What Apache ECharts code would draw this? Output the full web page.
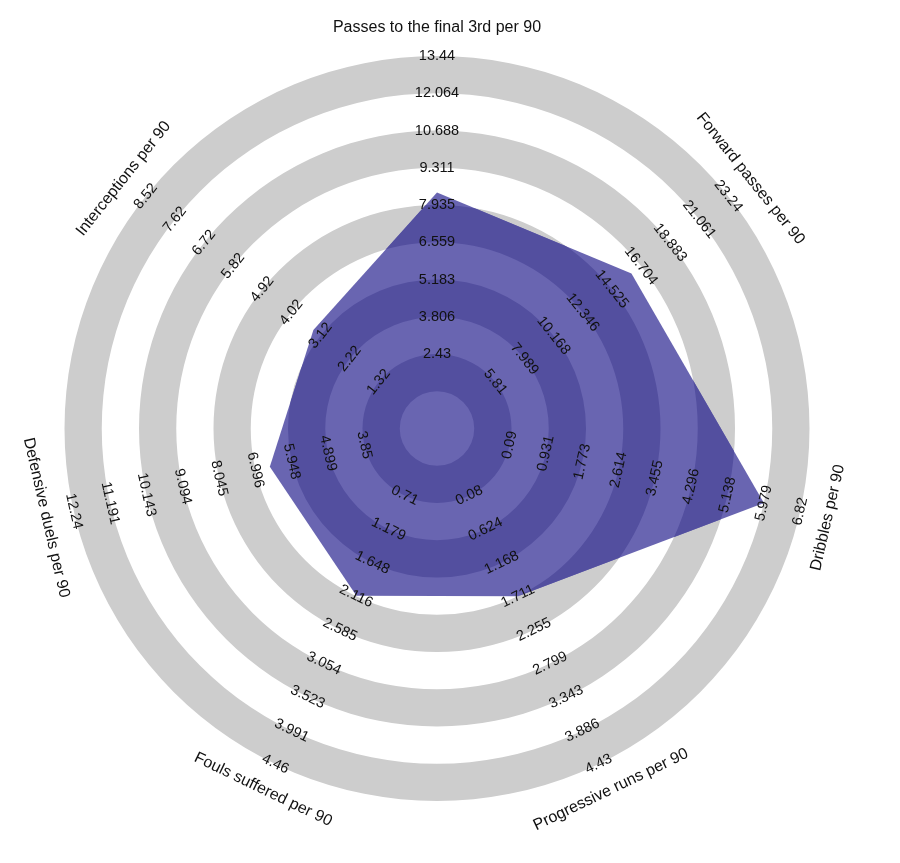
<!DOCTYPE html>
<html>
<head>
<meta charset="utf-8">
<script src="https://cdn.jsdelivr.net/npm/echarts@6/dist/echarts.min.js"></script>
<style>
    html, body { margin: 0; padding: 0; background: #ffffff; }
    #radar { width: 900px; height: 863px; }
</style>
</head>
<body>
<div id="radar"></div>
<script>
    var params = [
        'Passes to the final 3rd per 90',
        'Forward passes per 90',
        'Dribbles per 90',
        'Progressive runs per 90',
        'Fouls suffered per 90',
        'Defensive duels per 90',
        'Interceptions per 90'
    ];
    var playerValues = [8.4, 16.0, 5.98, 1.71, 2.11, 6.58, 3.34];
    var tickLabels = [
        ['2.43', '3.806', '5.183', '6.559', '7.935', '9.311', '10.688', '12.064', '13.44'],
        ['5.81', '7.989', '10.168', '12.346', '14.525', '16.704', '18.883', '21.061', '23.24'],
        ['0.09', '0.931', '1.773', '2.614', '3.455', '4.296', '5.138', '5.979', '6.82'],
        ['0.08', '0.624', '1.168', '1.711', '2.255', '2.799', '3.343', '3.886', '4.43'],
        ['0.71', '1.179', '1.648', '2.116', '2.585', '3.054', '3.523', '3.991', '4.46'],
        ['3.85', '4.899', '5.948', '6.996', '8.045', '9.094', '10.143', '11.191', '12.24'],
        ['1.32', '2.22', '3.12', '4.02', '4.92', '5.82', '6.72', '7.62', '8.52']
    ];

    var lightColor = '#6965b1';
    var darkColor = '#534f9f';
    var ringColor = '#cdcdcd';
    var textColor = '#111111';

    var step = 360 / params.length;

    function axisAngle(i) {
        return i * step;
    }
    // keep text readable on the lower half
    function labelRotate(i) {
        var a = axisAngle(i);
        var rot = -a;
        if (a > 90 && a < 270) rot += 180;
        if (rot < -180) rot += 360;
        return rot;
    }
    // value -> ring units (lowest tick on ring 2, highest on ring 10)
    function toRing(i, v) {
        var list = tickLabels[i];
        var lo = parseFloat(list[0]);
        var hi = parseFloat(list[list.length - 1]);
        return 2 + 8 * (v - lo) / (hi - lo);
    }

    var polyData = playerValues.map(function (v, i) {
        return [toRing(i, v), axisAngle(i)];
    });

    var tickData = [];
    tickLabels.forEach(function (list, i) {
        list.forEach(function (t, k) {
            tickData.push({ name: t, value: [k + 2, axisAngle(i), labelRotate(i)] });
        });
    });

    var paramData = params.map(function (p, i) {
        return { name: p, value: [10.76, axisAngle(i), labelRotate(i)] };
    });

    function textItem(list, size) {
        return function (prm, api) {
            var pt = api.coord([api.value(0), api.value(1)]);
            return {
                type: 'text',
                x: pt[0],
                y: pt[1],
                rotation: api.value(2) * Math.PI / 180,
                style: {
                    text: list[prm.dataIndex].name,
                    x: 0,
                    y: 0,
                    align: 'center',
                    verticalAlign: 'middle',
                    fill: textColor,
                    font: size + 'px "Liberation Sans", Arial, sans-serif'
                }
            };
        };
    }

    var chartDom = document.getElementById('radar');
    var myChart = echarts.init(chartDom);
    var option;

    option = {
        animation: false,
        backgroundColor: '#ffffff',
        polar: {
            center: [437, 428.5],
            radius: 11 * 37.25
        },
        angleAxis: {
            type: 'value',
            min: 0,
            max: 360,
            startAngle: 90,
            clockwise: true,
            show: false
        },
        radiusAxis: {
            type: 'value',
            min: 0,
            max: 11,
            interval: 1,
            axisLine: { show: false },
            axisTick: { show: false },
            axisLabel: { show: false },
            splitLine: { show: false },
            splitArea: {
                show: true,
                areaStyle: { color: ['#ffffff', ringColor] }
            }
        },
        series: [
            {
                name: 'player',
                type: 'custom',
                coordinateSystem: 'polar',
                z: 2,
                data: polyData,
                renderItem: function (prm, api) {
                    if (prm.dataIndex !== 0) return;
                    var pts = polyData.map(function (d) {
                        return api.coord(d);
                    });
                    var c = api.coord([0, 0]);
                    var unit = c[1] - api.coord([1, 0])[1];
                    var rings = [];
                    for (var k = 1; k < 10; k += 2) {
                        rings.push({
                            type: 'ring',
                            shape: { cx: c[0], cy: c[1], r0: k * unit, r: (k + 1) * unit },
                            style: { fill: darkColor }
                        });
                    }
                    return {
                        type: 'group',
                        children: [
                            {
                                type: 'polygon',
                                shape: { points: pts },
                                style: { fill: lightColor }
                            },
                            {
                                type: 'group',
                                clipPath: { type: 'polygon', shape: { points: pts } },
                                children: rings
                            }
                        ]
                    };
                }
            },
            {
                name: 'ticks',
                type: 'custom',
                coordinateSystem: 'polar',
                z: 5,
                silent: true,
                data: tickData,
                renderItem: textItem(tickData, 14.5)
            },
            {
                name: 'params',
                type: 'custom',
                coordinateSystem: 'polar',
                z: 5,
                silent: true,
                data: paramData,
                renderItem: textItem(paramData, 16)
            }
        ]
    };

    option && myChart.setOption(option);
</script>
</body>
</html>
